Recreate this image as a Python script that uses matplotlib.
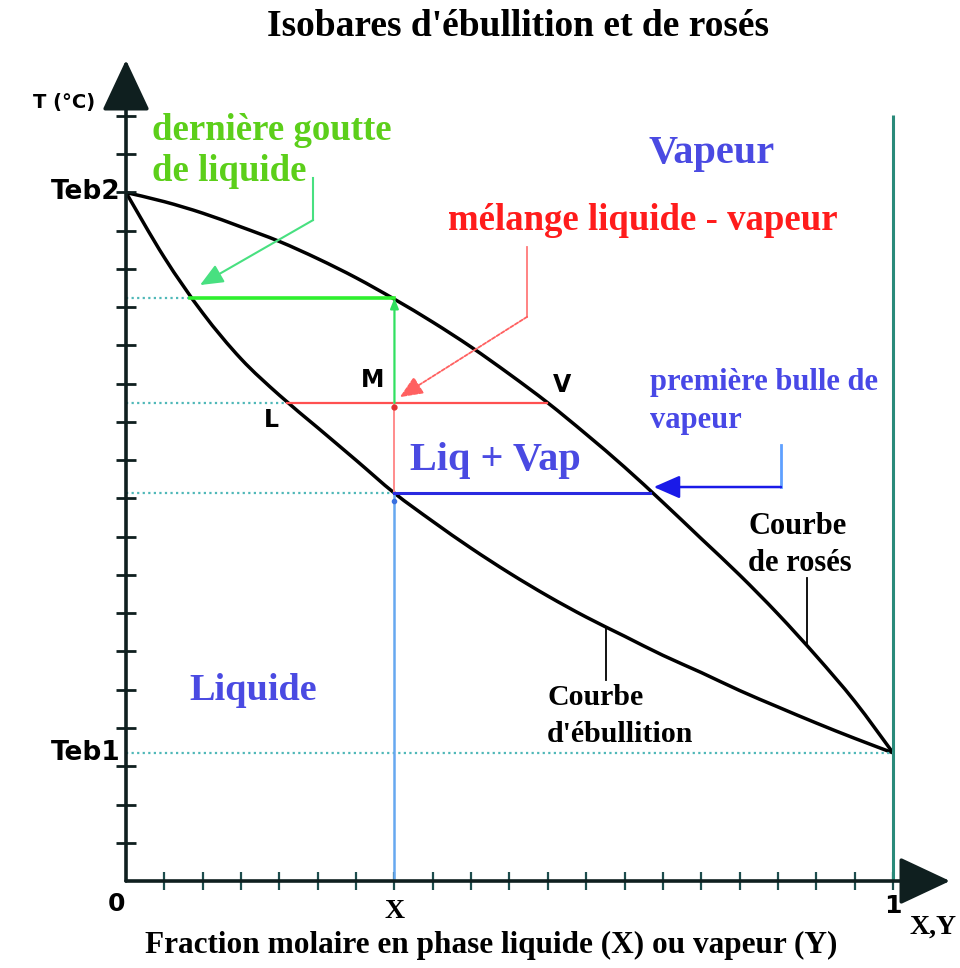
import matplotlib
matplotlib.use("Agg")
import matplotlib.pyplot as plt
from matplotlib.path import Path
from matplotlib.patches import PathPatch
import numpy as np

# ---------------- data ----------------
x_grid = [0.00, 0.05, 0.10, 0.15, 0.20, 0.25, 0.30, 0.35, 0.40, 0.45, 0.50,
          0.55, 0.60, 0.65, 0.70, 0.75, 0.80, 0.85, 0.90, 0.95, 1.00]
T_bubble = [18.0, 16.3, 14.85, 13.65, 12.7, 11.85, 11.0, 10.14, 9.4, 8.7, 8.05,
            7.45, 6.9, 6.4, 5.9, 5.45, 4.98, 4.55, 4.13, 3.73, 3.35]
T_dew = [18.0, 17.76, 17.46, 17.1, 16.72, 16.27, 15.77, 15.21, 14.61, 13.96, 13.25,
         12.5, 11.68, 10.82, 9.9, 8.95, 8.0, 6.98, 5.88, 4.7, 3.35]
Teb1, Teb2 = 3.35, 18.0
X_M = 0.35
T_green, x_green_liq = 15.24, 0.083
T_red, x_L, x_V = 12.5, 0.21, 0.549
T_blue, x_blue_vap = 10.14, 0.683
y_ticks = list(range(1, 21))
x_ticks = [round(0.05 * k, 2) for k in range(1, 21)]

# ---------------- figure ----------------
W, H = 960, 968
fig = plt.figure(figsize=(W / 100, H / 100), dpi=100)
x_unit, y_unit = 767.0, 38.25
ox, oy = 126.0, 881.0
xmax = (950 - ox) / x_unit
ymax = (oy - 60) / y_unit
ax = fig.add_axes([ox / W, (H - oy) / H, (950 - ox) / W, (oy - 60) / H])
ax.set_xlim(0, xmax)
ax.set_ylim(0, ymax)
for s in ax.spines.values():
    s.set_visible(False)
ax.patch.set_alpha(0)

AXC = "#0f1f1f"
for xy in [(0, ymax), (xmax, 0)]:
    ax.annotate("", xy=xy, xytext=(0, 0),
                arrowprops=dict(arrowstyle="-|>,head_length=1.6,head_width=0.75",
                                lw=2.6, color=AXC, mutation_scale=20, shrinkA=0, shrinkB=0),
                annotation_clip=False)

ax.set_yticks(y_ticks)
ax.set_yticklabels([])
ax.set_xticks(x_ticks)
ax.set_xticklabels([])
ax.tick_params(axis="y", direction="inout", length=14, width=2, color=AXC)
ax.tick_params(axis="x", direction="inout", length=13, width=1.6, color="#1d4d4d")

serif = "Liberation Serif"
hand = "DejaVu Sans"


def smooth_curve(xs, ys, **kw):
    pts = np.column_stack([xs, ys])
    verts = [pts[0]]
    codes = [Path.MOVETO]
    n = len(pts)
    for i in range(n - 1):
        p0 = pts[i - 1] if i > 0 else pts[i]
        p1, p2 = pts[i], pts[i + 1]
        p3 = pts[i + 2] if i + 2 < n else pts[i + 1]
        verts += [p1 + (p2 - p0) / 6, p2 - (p3 - p1) / 6, p2]
        codes += [Path.CURVE4] * 3
    ax.add_patch(PathPatch(Path(verts, codes), fill=False, **kw))


# vertical teal line at x = 1
ax.plot([1, 1], [0, 20.03], color="#2a8a7a", lw=2.2, solid_capstyle="butt")

# dotted level lines
dot = dict(color="#4fb8b8", lw=1.6, ls=(0, (1, 1.5)))
ax.plot([0, 1], [Teb1, Teb1], **dot)
ax.plot([0, x_green_liq], [T_green, T_green], **dot)
ax.plot([0, x_L], [T_red, T_red], **dot)
ax.plot([0, X_M], [T_blue, T_blue], **dot)

# light blue vertical at X
ax.plot([X_M, X_M], [0, T_blue], color="#66a8f0", lw=1.8)
ax.plot([X_M], [T_blue - 0.2], "o", color="#3a70e0", ms=3)

# green tie line and vertical
ax.plot([x_green_liq, X_M], [T_green, T_green], color="#2ef02e", lw=2.6)
ax.annotate("", xy=(X_M, T_green), xytext=(X_M, T_red),
            arrowprops=dict(arrowstyle="-|>,head_length=0.5,head_width=0.2",
                            lw=1.6, color="#30e060", mutation_scale=12, shrinkA=0, shrinkB=0))
# red tie line and vertical
ax.plot([x_L, x_V], [T_red, T_red], color="#ff5050", lw=1.6)
ax.plot([X_M, X_M], [T_blue, T_red], color="#ff8c8c", lw=1.4)
ax.plot([X_M], [T_red - 0.12], "o", color="#e03030", ms=3.5)
# blue tie line
ax.plot([X_M, x_blue_vap], [T_blue, T_blue], color="#2a2ae0", lw=2.2)

# curves
smooth_curve(x_grid, T_dew, ec="black", lw=2.5)
smooth_curve(x_grid, T_bubble, ec="black", lw=2.5)

# green annotation arrow
ax.plot([0.244, 0.244], [18.38, 17.28], color="#48e080", lw=1.5)
ax.annotate("", xy=(0.0965, 15.58), xytext=(0.244, 17.28),
            arrowprops=dict(arrowstyle="-|>,head_length=0.7,head_width=0.3",
                            lw=1.5, color="#48e080", mutation_scale=20, shrinkA=0, shrinkB=0))
# red annotation arrow
ax.plot([0.523, 0.523], [16.58, 14.75], color="#ff7a7a", lw=1.3)
ax.annotate("", xy=(0.357, 12.65), xytext=(0.523, 14.75),
            arrowprops=dict(arrowstyle="-|>,head_length=0.7,head_width=0.3",
                            lw=1.3, ls=(0, (2, 1)), color="#ff6060", mutation_scale=20,
                            shrinkA=0, shrinkB=0))
# blue annotation arrow
ax.plot([0.854, 0.854], [11.4, 10.3], color="#5fa0ff", lw=2)
ax.annotate("", xy=(0.688, 10.3), xytext=(0.854, 10.3),
            arrowprops=dict(arrowstyle="-|>,head_length=0.8,head_width=0.35",
                            lw=1.8, color="#1a1ae8", mutation_scale=20, shrinkA=0, shrinkB=0))

# leader lines
ax.plot([0.888, 0.888], [7.92, 6.2], color="black", lw=1.3)
ax.plot([0.626, 0.626], [6.65, 5.25], color="black", lw=1.3)

# ---------------- texts ----------------
blue = "#4a4ae2"
ax.text(0.764, 19.03, "Vapeur", color=blue, fontsize=29, fontweight="bold",
        family=serif, ha="center", va="center")
ax.text(0.166, 4.99, "Liquide", color=blue, fontsize=27.5, fontweight="bold",
        family=serif, ha="center", va="center")
ax.text(0.481, 11.0, "Liq + Vap", color=blue, fontsize=29, fontweight="bold",
        family=serif, ha="center", va="center")
green = "#5ccf1a"
ax.text(0.034, 19.63, "dernière goutte", color=green, fontsize=26.5, fontweight="bold",
        family=serif, ha="left", va="center")
ax.text(0.034, 18.54, "de liquide", color=green, fontsize=26.5, fontweight="bold",
        family=serif, ha="left", va="center")
ax.text(0.42, 17.28, "mélange liquide - vapeur", color="#ff1c1c", fontsize=26.5,
        fontweight="bold", family=serif, ha="left", va="center")
ax.text(0.683, 13.02, "première bulle de", color="#4848e6", fontsize=22,
        fontweight="bold", family=serif, ha="left", va="center")
ax.text(0.683, 12.05, "vapeur", color="#4848e6", fontsize=22,
        fontweight="bold", family=serif, ha="left", va="center")
ax.text(0.811, 9.28, "Courbe", color="black", fontsize=22, fontweight="bold",
        family=serif, ha="left", va="center")
ax.text(0.811, 8.31, "de rosés", color="black", fontsize=22, fontweight="bold",
        family=serif, ha="left", va="center")
ax.text(0.549, 4.81, "Courbe", color="black", fontsize=21.5, fontweight="bold",
        family=serif, ha="left", va="center")
ax.text(0.549, 3.84, "d'ébullition", color="black", fontsize=21.5, fontweight="bold",
        family=serif, ha="left", va="center")

ax.text(0.322, 13.1, "M", fontsize=17, fontweight="bold", family=hand,
        ha="center", va="center")
ax.text(0.19, 12.05, "L", fontsize=17, fontweight="bold", family=hand,
        ha="center", va="center")
ax.text(0.568, 12.97, "V", fontsize=17, fontweight="bold", family=hand,
        ha="center", va="center")

ax.text(-0.081, 20.34, "T (°C)", fontsize=14, fontweight="bold", family=hand,
        ha="center", va="center", clip_on=False)
ax.text(-0.007, Teb2, "Teb2", fontsize=19, fontweight="bold", family=hand,
        ha="right", va="center", clip_on=False)
ax.text(-0.007, Teb1, "Teb1", fontsize=19, fontweight="bold", family=hand,
        ha="right", va="center", clip_on=False)
ax.text(-0.012, -0.6, "0", fontsize=18, fontweight="bold", family=hand,
        ha="center", va="center", clip_on=False)
ax.text(1.0, -0.65, "1", fontsize=18, fontweight="bold", family=hand,
        ha="center", va="center", clip_on=False)
ax.text(X_M, -0.8, "X", fontsize=20, fontweight="bold", family=serif,
        ha="center", va="center", clip_on=False)
ax.text(1.022, -1.2, "X,Y", fontsize=20, fontweight="bold", family=serif,
        ha="left", va="center", clip_on=False)

fig.text(518 / W, 1 - 26 / H, "Isobares d'ébullition et de rosés", fontsize=27,
         fontweight="bold", family=serif, ha="center", va="center")
fig.text(491 / W, 1 - 945 / H, "Fraction molaire en phase liquide (X) ou vapeur (Y)",
         fontsize=22.5, fontweight="bold", family=serif, ha="center", va="center")

fig.savefig("out.png", dpi=100)
